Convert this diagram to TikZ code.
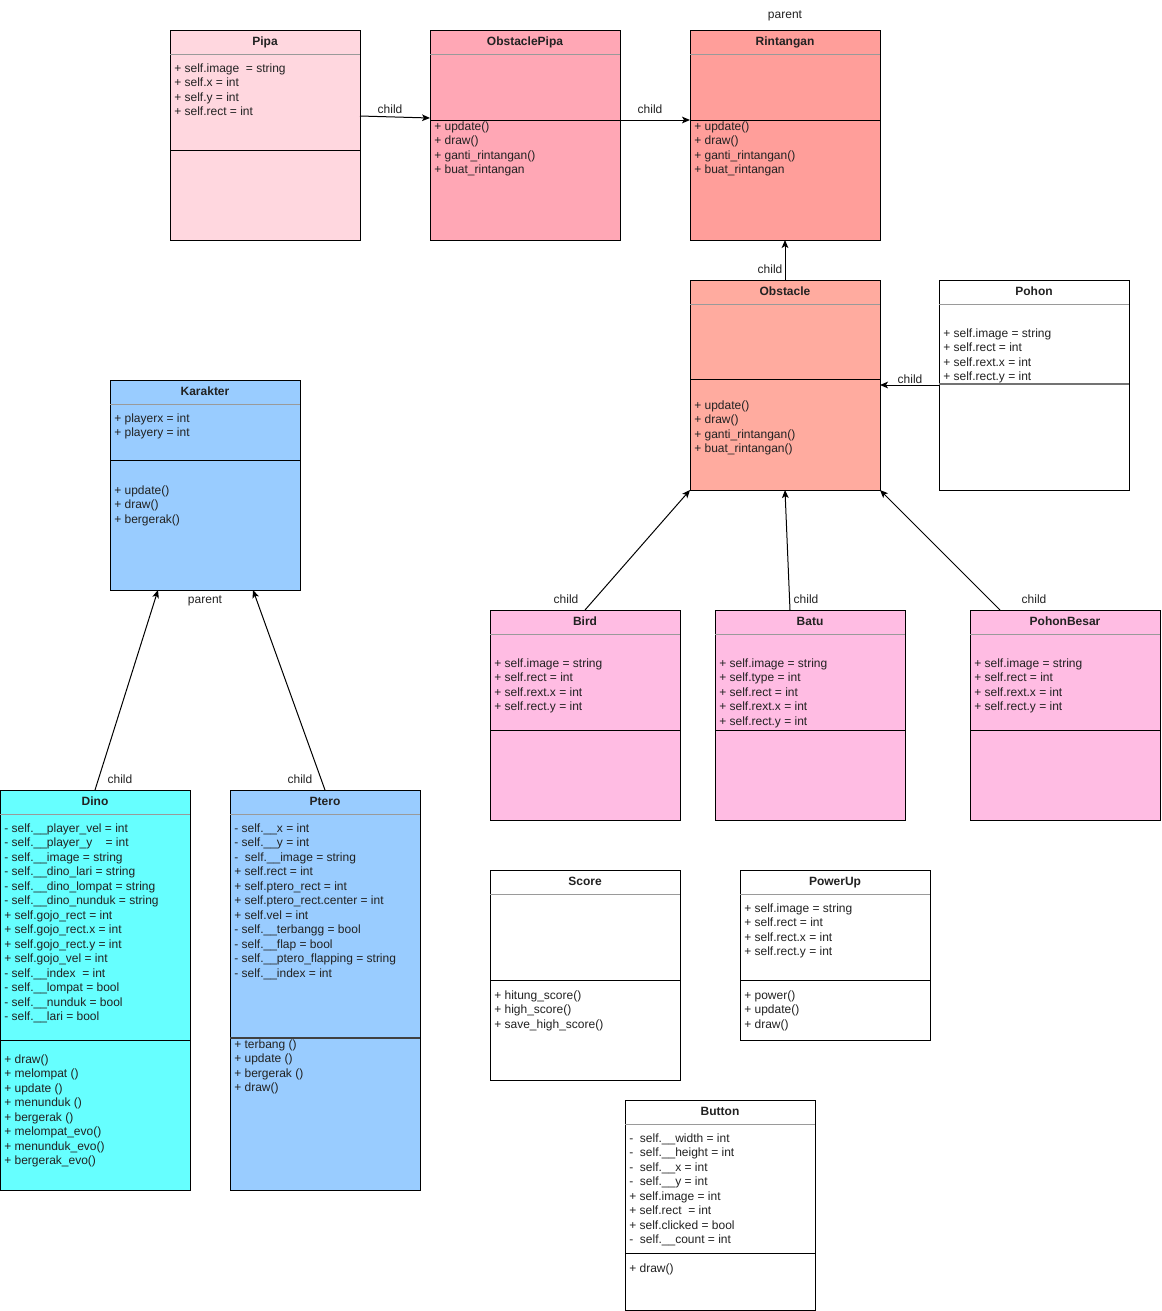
\documentclass[tikz,border=0pt]{standalone}
\usepackage{fontspec}
\setmainfont{Liberation Sans}
\usetikzlibrary{arrows.meta,calc}
\definecolor{cPipa}{HTML}{FFD7DF}
\definecolor{cOPipa}{HTML}{FFA7B5}
\definecolor{cRint}{HTML}{FF9E9A}
\definecolor{cObs}{HTML}{FFAB9F}
\definecolor{cBlue}{HTML}{99CCFF}
\definecolor{cCyan}{HTML}{66FFFF}
\definecolor{cPink}{HTML}{FFBCE3}
\definecolor{txtc}{HTML}{222222}
\definecolor{sepc}{HTML}{9A9A9A}
\tikzset{
  classbox/.style={draw=black, line width=0.75pt, inner sep=0pt, outer sep=0pt, minimum width=142.5pt},
  titletxt/.style={inner sep=0pt, font=\fontsize{9}{11}\selectfont\bfseries, text=txtc, text height=6.5pt, text depth=2pt},
  linetxt/.style={anchor=west, inner sep=0pt, font=\fontsize{9}{11}\selectfont, text=txtc, text height=6.5pt, text depth=2pt},
  lbl/.style={inner sep=0pt, font=\fontsize{9}{11}\selectfont, text=txtc, text height=6.5pt, text depth=2pt},
  sepline/.style={draw=sepc, line width=0.75pt},
  divline/.style={draw=black, line width=0.75pt},
  inherit/.style={draw=black, line width=0.75pt, -{Stealth[length=6pt,width=5pt,inset=1.5pt]}}
}
\newcommand\umlclass[6]{%
  \node[classbox, fill=#5, minimum height=#4*0.75pt, anchor=north west] (#1) at (#2,#3) {};
  \node[titletxt] (#1T) at ($(#1.north)+(0,12)$) {#6};
  \draw[sepline] ($(#1.north west)+(0,24)$) -- ($(#1.north east)+(0,24)$);
}
\newcommand\umldiv[2]{%
  \draw[divline] ($(#1.north west)+(0,#2)$) -- ($(#1.north east)+(0,#2)$);
}
\newcommand\umllines[4]{%
  \foreach \t [count=\i] in {#4}
    \node[linetxt] (#1#2\i) at ($(#1.north west)+(4,{#3+2+14.5*(\i-1)})$) {\t};
}
\begin{document}
\begin{tikzpicture}[x=0.75pt,y=-0.75pt]
\useasboundingbox (0,0) rectangle (1162,1311);

% Top row
\umlclass{pipa}{170}{30}{210}{cPipa}{Pipa}
\umllines{pipa}{A}{37}{+ self.image\ \ = string, + self.x = int, + self.y = int, + self.rect = int}
\umldiv{pipa}{120}

\umlclass{opipa}{430}{30}{210}{cOPipa}{ObstaclePipa}
\umldiv{opipa}{90}
\umllines{opipa}{M}{95}{+ update(), + draw(), + ganti\_rintangan(), + buat\_rintangan}

\umlclass{rint}{690}{30}{210}{cRint}{Rintangan}
\umldiv{rint}{90}
\umllines{rint}{M}{95}{+ update(), + draw(), + ganti\_rintangan(), + buat\_rintangan}

% Obstacle and Pohon
\umlclass{obs}{690}{280}{210}{cObs}{Obstacle}
\umldiv{obs}{99}
\umllines{obs}{M}{124}{+ update(), + draw(), + ganti\_rintangan(), + buat\_rintangan()}

\umlclass{pohon}{939}{280}{210}{white}{Pohon}
\umllines{pohon}{A}{52}{+ self.image = string, + self.rect = int, + self.rext.x = int, + self.rect.y = int}
\draw[draw=black!55, line width=1.2pt] ($(pohon.north west)+(0,104)$) -- ($(pohon.north east)+(0,104)$);

% Karakter
\umlclass{kar}{110}{380}{210}{cBlue}{Karakter}
\umllines{kar}{A}{37}{+ playerx = int, + playery = int}
\umldiv{kar}{80}
\umllines{kar}{M}{109}{+ update(), + draw(), + bergerak()}

% Dino
\umlclass{dino}{0}{790}{400}{cCyan}{Dino}
\umllines{dino}{A}{37}{- self.\_\_player\_vel = int, - self.\_\_player\_y\ \ \ \ = int, - self.\_\_image = string, - self.\_\_dino\_lari = string, - self.\_\_dino\_lompat = string, - self.\_\_dino\_nunduk = string, + self.gojo\_rect = int, + self.gojo\_rect.x = int, + self.gojo\_rect.y = int, + self.gojo\_vel = int, - self.\_\_index\ \ = int, - self.\_\_lompat = bool, - self.\_\_nunduk = bool, - self.\_\_lari = bool}
\umldiv{dino}{250}
\umllines{dino}{M}{268}{+ draw(), + melompat (), + update (), + menunduk (), + bergerak (), + melompat\_evo(), + menunduk\_evo(), + bergerak\_evo()}

% Ptero
\umlclass{ptero}{230}{790}{400}{cBlue}{Ptero}
\umllines{ptero}{A}{37}{- self.\_\_x = int, - self.\_\_y = int, -\ \ self.\_\_image = string, + self.rect = int, + self.ptero\_rect = int, + self.ptero\_rect.center = int, + self.vel = int, - self.\_\_terbangg = bool, - self.\_\_flap = bool, - self.\_\_ptero\_flapping = string, - self.\_\_index = int}
\draw[draw=black!75, line width=1pt] ($(ptero.north west)+(0,248)$) -- ($(ptero.north east)+(0,248)$);
\umllines{ptero}{M}{253}{+ terbang (), + update (), + bergerak (), + draw()}

% Bird, Batu, PohonBesar
\umlclass{bird}{490}{610}{210}{cPink}{Bird}
\umllines{bird}{A}{52}{+ self.image = string, + self.rect = int, + self.rext.x = int, + self.rect.y = int}
\umldiv{bird}{120}

\umlclass{batu}{715}{610}{210}{cPink}{Batu}
\umllines{batu}{A}{52}{+ self.image = string, + self.type = int, + self.rect = int, + self.rext.x = int, + self.rect.y = int}
\umldiv{batu}{120}

\umlclass{pbesar}{970}{610}{210}{cPink}{PohonBesar}
\umllines{pbesar}{A}{52}{+ self.image = string, + self.rect = int, + self.rext.x = int, + self.rect.y = int}
\umldiv{pbesar}{120}

% Score, PowerUp, Button
\umlclass{score}{490}{870}{210}{white}{Score}
\umldiv{score}{110}
\umllines{score}{M}{124}{+ hitung\_score(), + high\_score(), + save\_high\_score()}

\umlclass{pwr}{740}{870}{170}{white}{PowerUp}
\umllines{pwr}{A}{37}{+ self.image = string, + self.rect = int, + self.rect.x = int, + self.rect.y = int}
\umldiv{pwr}{110}
\umllines{pwr}{M}{124}{+ power(), + update(), + draw()}

\umlclass{btn}{625}{1100}{210}{white}{Button}
\umllines{btn}{A}{37}{-\ \ self.\_\_width = int, -\ \ self.\_\_height = int, -\ \ self.\_\_x = int, -\ \ self.\_\_y = int, + self.image = int, + self.rect\ \ = int, + self.clicked = bool, -\ \ self.\_\_count = int}
\umldiv{btn}{153}
\umllines{btn}{M}{167}{+ draw()}

% Connectors
\draw[inherit] ($(pipa.north east)+(0,86)$) -- ($(opipa.north west)+(0,88)$);
\draw[inherit] ($(opipa.north east)+(0,90)$) -- ($(rint.north west)+(0,90)$);
\draw[inherit] (obs.north) -- (rint.south);
\draw[inherit] (pohon.west) -- (obs.east);
\draw[inherit] (dino.north) -- ($(kar.south west)+(48,0)$);
\draw[inherit] (ptero.north) -- ($(kar.south east)+(-47,0)$);
\draw[inherit] (bird.north) -- (obs.south west);
\draw[inherit] ($(batu.north)+(-20,0)$) -- (obs.south);
\draw[inherit] ($(pbesar.north)+(-65,0)$) -- (obs.south east);

% Labels
\node[lbl] (lparent1) at (785,15) {parent};
\node[lbl] (lchild1) at (390,110) {child};
\node[lbl] (lchild2) at (650,110) {child};
\node[lbl] (lchild3) at (770,270) {child};
\node[lbl] (lchild4) at (910,380) {child};
\node[lbl] (lparent2) at (205,600) {parent};
\node[lbl] (lchild5) at (120,780) {child};
\node[lbl] (lchild6) at (300,780) {child};
\node[lbl] (lchild7) at (566,600) {child};
\node[lbl] (lchild8) at (806,600) {child};
\node[lbl] (lchild9) at (1034,600) {child};
\end{tikzpicture}
\end{document}
